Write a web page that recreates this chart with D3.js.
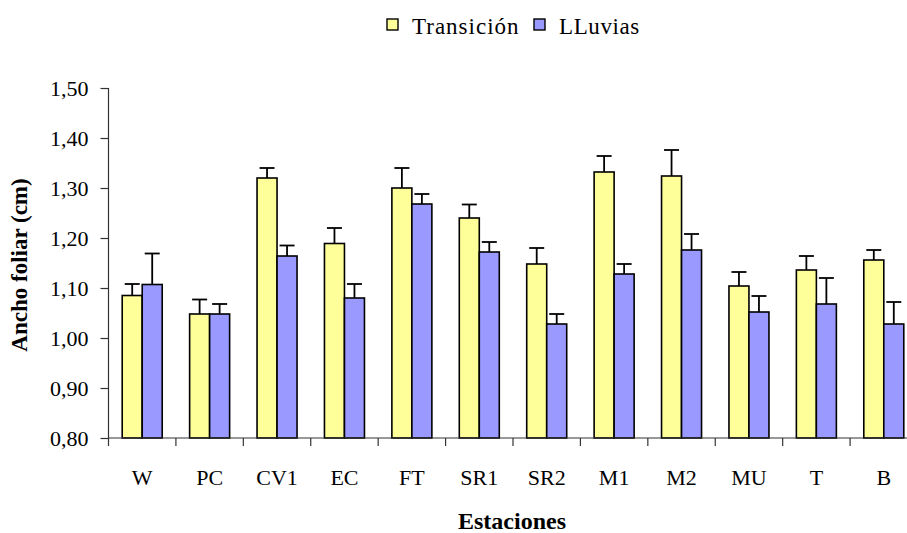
<!DOCTYPE html>
<html>
<head>
<meta charset="utf-8">
<script src="https://cdn.jsdelivr.net/npm/d3@7"></script>
<style>
  html, body { margin: 0; padding: 0; background: #fff; }
  svg { display: block; }
  svg text { font-family: "Liberation Serif", "Times New Roman", Times, serif !important; fill: #000; }
</style>
</head>
<body>
<svg id="chart" width="907" height="533" font-family="Liberation Serif"></svg>
<script>
const categories = ["W", "PC", "CV1", "EC", "FT", "SR1", "SR2", "M1", "M2", "MU", "T", "B"];
const seriesNames = ["Transición", "LLuvias"];
const transicion = [1.085, 1.048, 1.320, 1.189, 1.300, 1.240, 1.148, 1.332, 1.324, 1.104, 1.136, 1.156];
const transicionErr = [0.023, 0.029, 0.020, 0.031, 0.040, 0.027, 0.032, 0.032, 0.052, 0.028, 0.028, 0.020];
const lluvias = [1.107, 1.048, 1.164, 1.080, 1.268, 1.172, 1.028, 1.128, 1.176, 1.052, 1.068, 1.028];
const lluviasErr = [0.062, 0.020, 0.021, 0.028, 0.020, 0.020, 0.020, 0.020, 0.032, 0.032, 0.052, 0.044];
const yTicks = [0.80, 0.90, 1.00, 1.10, 1.20, 1.30, 1.40, 1.50];
const colors = ["#FFFF99", "#9999FF"];

const svg = d3.select("#chart");
const x0 = 108.5, x1 = 917.5, yTop = 88, yBot = 438;
const FONT = "Liberation Serif";

const x = d3.scaleBand().domain(categories).range([x0, x1]).padding(0);
const xs = d3.scaleBand().domain(seriesNames).range([0, 40]);
const y = d3.scaleLinear().domain([0.8, 1.5]).range([yBot, yTop]);
const color = d3.scaleOrdinal().domain(seriesNames).range(colors);

const rows = [];
categories.forEach((c, i) => {
  rows.push({cat: c, s: seriesNames[0], v: transicion[i], e: transicionErr[i]});
  rows.push({cat: c, s: seriesNames[1], v: lluvias[i], e: lluviasErr[i]});
});
const barX = d => x(d.cat) + x.bandwidth() / 2 - 20 + xs(d.s);

// bars
svg.append("g").selectAll("rect").data(rows).join("rect")
  .attr("x", barX)
  .attr("y", d => y(d.v))
  .attr("width", xs.bandwidth())
  .attr("height", d => y(0.8) - y(d.v))
  .attr("fill", d => color(d.s))
  .attr("stroke", "#000")
  .attr("stroke-width", 1.6);

// error bars
const eg = svg.append("g").attr("stroke", "#000").attr("stroke-width", 1.8);
eg.selectAll("line.v").data(rows).join("line").attr("class", "v")
  .attr("x1", d => barX(d) + xs.bandwidth() / 2)
  .attr("x2", d => barX(d) + xs.bandwidth() / 2)
  .attr("y1", d => y(d.v))
  .attr("y2", d => y(d.v + d.e));
eg.selectAll("line.c").data(rows).join("line").attr("class", "c")
  .attr("x1", d => barX(d) + xs.bandwidth() / 2 - 7.5)
  .attr("x2", d => barX(d) + xs.bandwidth() / 2 + 7.5)
  .attr("y1", d => y(d.v + d.e))
  .attr("y2", d => y(d.v + d.e));

// y axis
const yAxis = d3.axisLeft(y).tickValues(yTicks).tickSize(8).tickPadding(12)
  .tickFormat(d => d3.format(".2f")(d).replace(".", ","));
const gy = svg.append("g").attr("transform", `translate(${x0},0)`).call(yAxis)
  .attr("font-family", FONT).attr("font-size", 22);
gy.select(".domain").attr("stroke", "#333").attr("stroke-width", 1.2).attr("d", `M0,${yTop}V${yBot}`);
gy.selectAll(".tick line").attr("stroke", "#333").attr("stroke-width", 1.2);
gy.selectAll(".tick text").attr("fill", "#000").attr("dy", "0.34em");

// x axis: ticks at band boundaries
const gx = svg.append("g").attr("transform", `translate(0,${yBot})`);
gx.append("line").attr("x1", x0).attr("x2", x1).attr("y1", 0).attr("y2", 0)
  .attr("stroke", "#333").attr("stroke-width", 1.2);
gx.selectAll("line.t").data(categories).join("line").attr("class", "t")
  .attr("x1", d => x(d)).attr("x2", d => x(d)).attr("y1", 0).attr("y2", 8)
  .attr("stroke", "#333").attr("stroke-width", 1.2);
gx.selectAll("text").data(categories).join("text")
  .attr("x", d => x(d) + x.bandwidth() / 2)
  .attr("y", 47)
  .attr("text-anchor", "middle")
  .attr("font-family", FONT).attr("font-size", 22)
  .text(d => d);

// axis titles
svg.append("text")
  .attr("x", 512).attr("y", 529)
  .attr("text-anchor", "middle")
  .attr("font-family", FONT).attr("font-size", 24).attr("font-weight", "bold")
  .text("Estaciones");
svg.append("text")
  .attr("transform", "translate(27,265) rotate(-90)")
  .attr("text-anchor", "middle")
  .attr("font-family", FONT).attr("font-size", 23).attr("font-weight", "bold")
  .text("Ancho foliar (cm)");

// legend
const legend = svg.append("g");
const legX = [387, 534];
seriesNames.forEach((s, i) => {
  legend.append("rect").attr("x", legX[i]).attr("y", 19).attr("width", 11).attr("height", 11)
    .attr("fill", color(s)).attr("stroke", "#000").attr("stroke-width", 1.4);
  legend.append("text").attr("x", legX[i] + 25).attr("y", 34)
    .attr("font-family", FONT).attr("font-size", 23)
    .attr("letter-spacing", i === 0 ? 1.0 : 0.6)
    .text(s);
});
</script>
</body>
</html>
